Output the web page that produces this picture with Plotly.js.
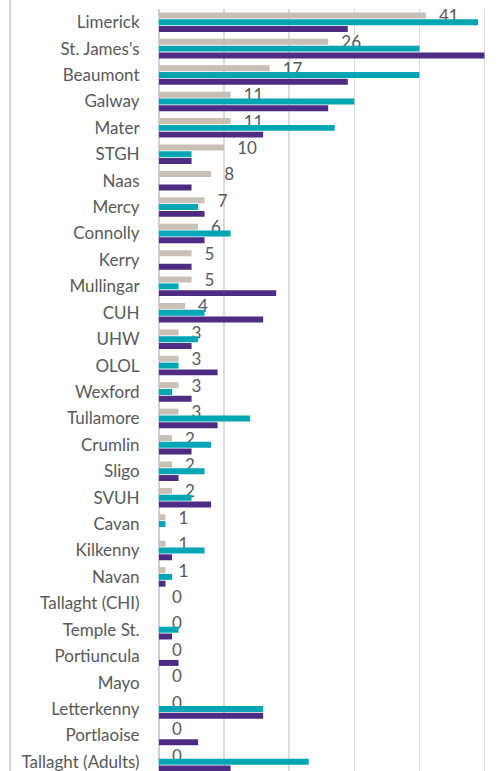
<!DOCTYPE html>
<html>
<head>
<meta charset="utf-8">
<script src="https://cdn.plot.ly/plotly-3.0.1.min.js"></script>
<style>
html, body { margin: 0; padding: 0; overflow: hidden; background: #fff; }
#wrap { position: relative; width: 501px; height: 776px; }
#border { position: absolute; left: 9px; top: 0; width: 2px; height: 776px; background: #d6d6d6; z-index: 5; }
#chart { position: absolute; left: 0; top: 0; width: 501px; height: 776px; }
</style>
</head>
<body>
<div id="wrap"><div id="chart"></div><div id="border"></div></div>
<script>
var categories = ["Limerick", "St. James's", "Beaumont", "Galway", "Mater", "STGH", "Naas", "Mercy", "Connolly", "Kerry", "Mullingar", "CUH", "UHW", "OLOL", "Wexford", "Tullamore", "Crumlin", "Sligo", "SVUH", "Cavan", "Kilkenny", "Navan", "Tallaght (CHI)", "Temple St.", "Portiuncula", "Mayo", "Letterkenny", "Portlaoise", "Tallaght (Adults)"];
var seriesGray = [41, 26, 17, 11, 11, 10, 8, 7, 6, 5, 5, 4, 3, 3, 3, 3, 2, 2, 2, 1, 1, 1, 0, 0, 0, 0, 0, 0, 0];
var seriesTeal = [49, 40, 40, 30, 27, 5, 0, 6, 11, 0, 3, 7, 6, 3, 2, 14, 8, 7, 5, 1, 7, 2, 0, 3, 0, 0, 16, 0, 23];
var seriesPurple = [29, 50, 29, 26, 16, 5, 5, 7, 7, 5, 18, 16, 5, 9, 5, 9, 5, 3, 8, 0, 2, 1, 0, 2, 3, 0, 16, 6, 11];

var FONT = "Lato, 'Open Sans', sans-serif";
var NB = "\u00a0\u00a0\u00a0";

var traces = [
  {
    type: "bar", orientation: "h", name: "gray",
    y: categories, x: seriesGray,
    marker: { color: "#c9c0b5" },
    text: seriesGray.map(function (v) { return NB + v; }),
    textposition: "outside", constraintext: "none", cliponaxis: false,
    textfont: { family: FONT, size: 17, color: "#595959" },
    hoverinfo: "skip"
  },
  {
    type: "bar", orientation: "h", name: "teal",
    y: categories, x: seriesTeal,
    marker: { color: "#00a6b4" },
    hoverinfo: "skip"
  },
  {
    type: "bar", orientation: "h", name: "purple",
    y: categories, x: seriesPurple,
    marker: { color: "#4f2c83" },
    hoverinfo: "skip"
  }
];

var layout = {
  width: 501, height: 776,
  margin: { l: 158.7, r: 9.5, t: 9, b: 1.4, pad: 0 },
  paper_bgcolor: "#ffffff", plot_bgcolor: "#ffffff",
  showlegend: false,
  barmode: "group", bargap: 0.23, bargroupgap: 0.12,
  font: { family: FONT, color: "#595959" },
  xaxis: {
    range: [0, 51], dtick: 10, tick0: 0,
    showgrid: true, gridcolor: "#dcdcdc", gridwidth: 1.5,
    zeroline: true, zerolinecolor: "#d0d0d0", zerolinewidth: 1.5,
    showticklabels: false, showline: false, ticks: "", fixedrange: true
  },
  yaxis: {
    type: "category", autorange: "reversed",
    showgrid: false, zeroline: false, showline: false,
    ticks: "outside", ticklen: 15, tickcolor: "rgba(0,0,0,0)",
    tickfont: { family: FONT, size: 17, color: "#595959" },
    fixedrange: true
  }
};

Plotly.newPlot("chart", traces, layout, { displayModeBar: false, staticPlot: true });
</script>
</body>
</html>
